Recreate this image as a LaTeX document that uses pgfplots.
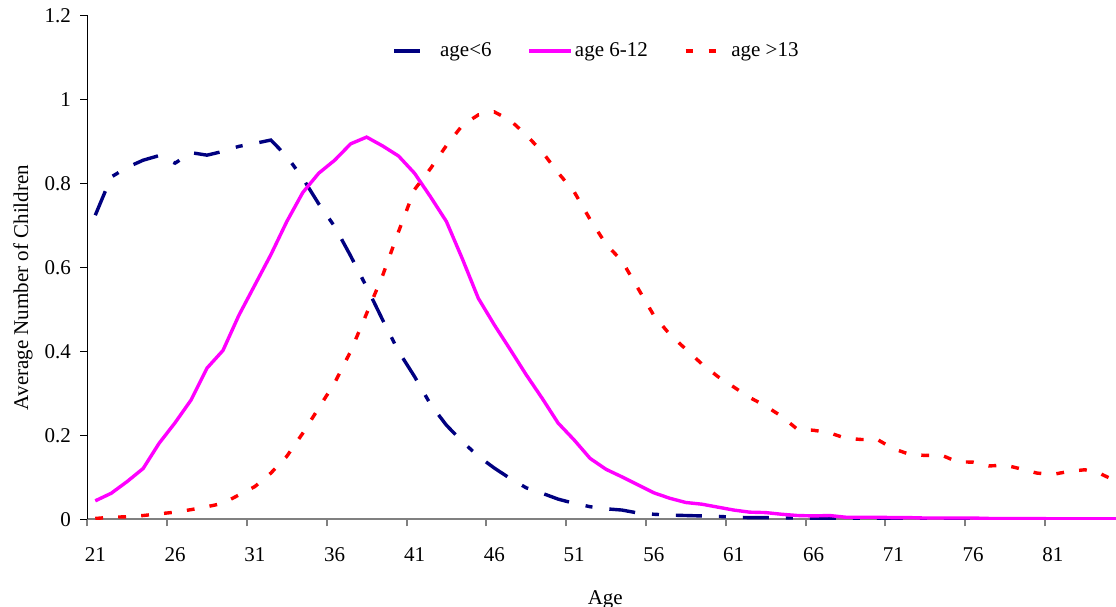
\documentclass[border=0pt]{standalone}
\usepackage{fontspec}
\setmainfont{Liberation Serif}
\usepackage{pgfplots}
\pgfplotsset{compat=1.18}
\definecolor{navyc}{HTML}{000080}
\definecolor{magc}{HTML}{FF00FF}
\definecolor{redc}{HTML}{FF0000}
\definecolor{axgray}{HTML}{808080}

\pgfplotstableread{
age young mid old
21 0.724 0.044 0.002
22 0.815 0.062 0.005
23 0.838 0.090 0.006
24 0.855 0.121 0.009
25 0.866 0.181 0.013
26 0.848 0.230 0.017
27 0.873 0.284 0.023
28 0.867 0.360 0.030
29 0.876 0.402 0.038
30 0.888 0.486 0.058
31 0.895 0.558 0.078
32 0.903 0.630 0.110
33 0.864 0.709 0.150
34 0.812 0.778 0.205
35 0.751 0.824 0.265
36 0.697 0.855 0.325
37 0.627 0.894 0.400
38 0.553 0.910 0.490
39 0.475 0.889 0.580
40 0.400 0.865 0.685
41 0.340 0.824 0.785
42 0.274 0.768 0.835
43 0.224 0.709 0.890
44 0.185 0.620 0.938
45 0.150 0.526 0.963
46 0.122 0.463 0.970
47 0.097 0.404 0.950
48 0.075 0.344 0.915
49 0.062 0.288 0.875
50 0.048 0.229 0.825
51 0.038 0.189 0.780
52 0.030 0.145 0.714
53 0.025 0.119 0.655
54 0.022 0.101 0.615
55 0.015 0.082 0.550
56 0.012 0.063 0.485
57 0.010 0.050 0.440
58 0.009 0.040 0.405
59 0.008 0.036 0.370
60 0.007 0.029 0.340
61 0.005 0.022 0.315
62 0.004 0.017 0.290
63 0.004 0.016 0.270
64 0.003 0.012 0.245
65 0.003 0.009 0.214
66 0.002 0.008 0.212
67 0.002 0.009 0.206
68 0.001 0.005 0.193
69 0.002 0.005 0.190
70 0.001 0.005 0.190
71 0.001 0.004 0.168
72 0.001 0.004 0.155
73 0.000 0.003 0.152
74 0.000 0.003 0.153
75 0.000 0.003 0.137
76 0.000 0.003 0.136
77 0.000 0.002 0.127
78 0.000 0.002 0.129
79 0.000 0.002 0.120
80 0.000 0.002 0.110
81 0.000 0.001 0.107
82 0.000 0.001 0.114
83 0.000 0.001 0.118
84 0.000 0.001 0.108
85 0.000 0.001 0.090
}\data

\begin{document}
\fontsize{10.5bp}{12.6bp}\selectfont
\begin{tikzpicture}
\begin{axis}[
  at={(0,0)}, anchor=south west,
  scale only axis, width=514.35bp, height=252bp,
  xmin=20.5, xmax=84.95, ymin=0, ymax=1.2,
  axis x line=bottom, axis y line=left,
  axis line style={-},
  x axis line style={draw=axgray, line width=1bp},
  y axis line style={draw=black, line width=0.6bp},
  tick align=outside,
  major tick length=3.5bp,
  xtick={20.5,25.5,...,80.5},
  xticklabels={21,26,31,36,41,46,51,56,61,66,71,76,81},
  xtick style={draw=axgray, line width=1bp},
  ytick={0,0.2,...,1.2},
  ytick style={draw=black, line width=0.6bp},
  /pgf/number format/assume math mode=true,
  yticklabel style={/pgf/number format/fixed},
  xticklabel style={xshift=3.99bp, yshift=-7bp},
  yticklabel style={xshift=-1bp},
  xlabel={Age},
  ylabel={Average Number of Children},
  xlabel style={at={(axis description cs:0.5035,-0.170)}, anchor=base},
  ylabel style={at={(axis description cs:-0.0625,0.46)}, anchor=center, rotate=0},
  clip=true,
  legend columns=-1,
  legend style={draw=none, fill=none, at={(0.2965,0.929)}, anchor=west,
    inner xsep=0pt, inner ysep=0pt,
    nodes={inner xsep=1bp, inner ysep=1bp},
    /tikz/every even column/.append style={column sep=17bp}},
  legend image code/.code={\draw[#1] (0bp,0bp) -- (21bp,0bp);},
]
\addplot[navyc, line width=1.7bp, dash pattern=on 13bp off 8.5bp on 3.5bp off 8.5bp] table[x=age, y=young] {\data};
\addlegendentry{age<6}
\addplot[magc, line width=1.7bp] table[x=age, y=mid] {\data};
\addlegendentry{age 6-12}
\addplot[redc, line width=1.7bp, dash pattern=on 3.9bp off 7.6bp] table[x=age, y=old] {\data};
\addlegendentry{age >13}
\end{axis}
\pgfresetboundingbox
\path[use as bounding box] (-43.65bp,-43.85bp) rectangle (514.35bp,259.65bp);
\end{tikzpicture}
\end{document}
